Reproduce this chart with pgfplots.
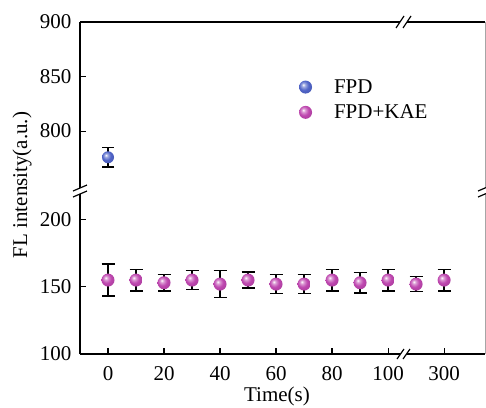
\documentclass[border=0pt]{standalone}
\usepackage{fontspec}
\setmainfont{Liberation Serif}
\usepackage{pgfplots}
\pgfplotsset{compat=1.18}
\usepackage{pgfplotstable}

\definecolor{fpd}{RGB}{80,100,200}
\definecolor{kae}{RGB}{190,70,175}
\newcommand{\myfont}{\fontsize{21bp}{25bp}\selectfont}

\pgfdeclareradialshading{kaeball}{\pgfpoint{-9bp}{9bp}}{color(0bp)=(white); color(7bp)=(kae!55!white); color(18bp)=(kae); color(40bp)=(kae!85!black); color(60bp)=(kae!70!black)}
\pgfdeclareradialshading{fpdball}{\pgfpoint{-9bp}{9bp}}{color(0bp)=(white); color(7bp)=(fpd!55!white); color(18bp)=(fpd); color(40bp)=(fpd!85!black); color(60bp)=(fpd!70!black)}
\pgfdeclareplotmark{kball}{\pgfpathcircle{\pgfpointorigin}{\pgfplotmarksize}\pgfshadepath{kaeball}{0}\pgfusepath{}}
\pgfdeclareplotmark{fball}{\pgfpathcircle{\pgfpointorigin}{\pgfplotmarksize}\pgfshadepath{fpdball}{0}\pgfusepath{}}

\pgfplotstableread{
x y e
0 155 12
10 155 8
20 153 6
30 155 7
40 152 10
50 155 6
60 152 7
70 152 7
80 155 8
90 153 7.5
100 155 8
110 152 5.5
120 155 8
}\kaedata

\pgfplotstableread{
x y e
0 776 9
}\fpddata

\begin{document}
\begin{tikzpicture}[x=1bp,y=1bp]
\useasboundingbox (0,0) rectangle (486,-407);
\pgfplotsset{
 common/.style={
  scale only axis, width=405bp, xmin=-10, xmax=134.6,
  tick align=inside, major tick length=6bp,
  every tick/.style={black, line width=1.2pt},
  axis line style={line width=1.5pt, black},
  tick label style={font=\myfont},
  yticklabel style={xshift=-5bp},
  xticklabel style={yshift=-9bp},
  /pgf/number format/assume math mode=true,
  clip=false,
 },
 errs/.style={error bars/.cd, y dir=both, y explicit,
  error bar style={line width=1.5pt, black},
  error mark options={rotate=90, mark size=#1, line width=1.5pt, black}},
}
\begin{axis}[common, at={(80bp,-354bp)}, anchor=south west, height=164bp,
  ymin=100, ymax=222,
  axis x line*=bottom, axis y line*=left,
  xtick={0,20,40,60,80,100,120}, xticklabels={0,20,40,60,80,100,300},
  ytick={100,150,200}]
\addplot[only marks, mark=kball, mark size=6.5bp, errs=6.5bp] table[x=x,y=y,y error=e]{\kaedata};
\draw[gray!70, line width=0.6pt] (rel axis cs:1,0) -- (rel axis cs:1,1);
\end{axis}
\begin{axis}[common, at={(80bp,-22bp)}, anchor=north west, height=168bp,
  ymin=746, ymax=900,
  axis x line*=top, axis y line*=left,
  xtick=\empty, ytick={800,850,900},
  legend style={draw=none, fill=none, font=\myfont, at={(0.533,0.683)}, anchor=north west, row sep=6bp, column sep=20bp},
  legend cell align=left]
\addplot[forget plot, only marks, mark=fball, mark size=6bp, errs=6bp] table[x=x,y=y,y error=e]{\fpddata};
\addlegendimage{only marks, mark=fball, mark size=6.5bp}
\addlegendentry{FPD}
\addlegendimage{only marks, mark=kball, mark size=6.5bp}
\addlegendentry{FPD+KAE}
\draw[gray!70, line width=0.6pt] (rel axis cs:1,0) -- (rel axis cs:1,1);
\end{axis}
% axis breaks
\fill[white] (73,-191) -- (87,-185) -- (87,-191) -- (73,-197) -- cycle;
\draw[line width=1.2pt] (73,-191) -- (87,-185) (73,-197) -- (87,-191);
\fill[white] (478,-191) -- (492,-185) -- (492,-191) -- (478,-197) -- cycle;
\draw[line width=1.2pt] (478,-191) -- (492,-185) (478,-197) -- (492,-191);
\fill[white] (397,-359) -- (404,-349) -- (410,-349) -- (403,-359) -- cycle;
\draw[line width=1.2pt] (397,-359) -- (404,-349) (403,-359) -- (410,-349);
\fill[white] (396,-28) -- (404,-16) -- (411,-16) -- (403,-28) -- cycle;
\draw[line width=1.2pt] (396,-28) -- (404,-16) (403,-28) -- (411,-16);
\node[rotate=90, font=\myfont] at (22,-185) {FL intensity(a.u.)};
\node[font=\myfont] at (277,-396) {Time(s)};
\end{tikzpicture}
\end{document}
